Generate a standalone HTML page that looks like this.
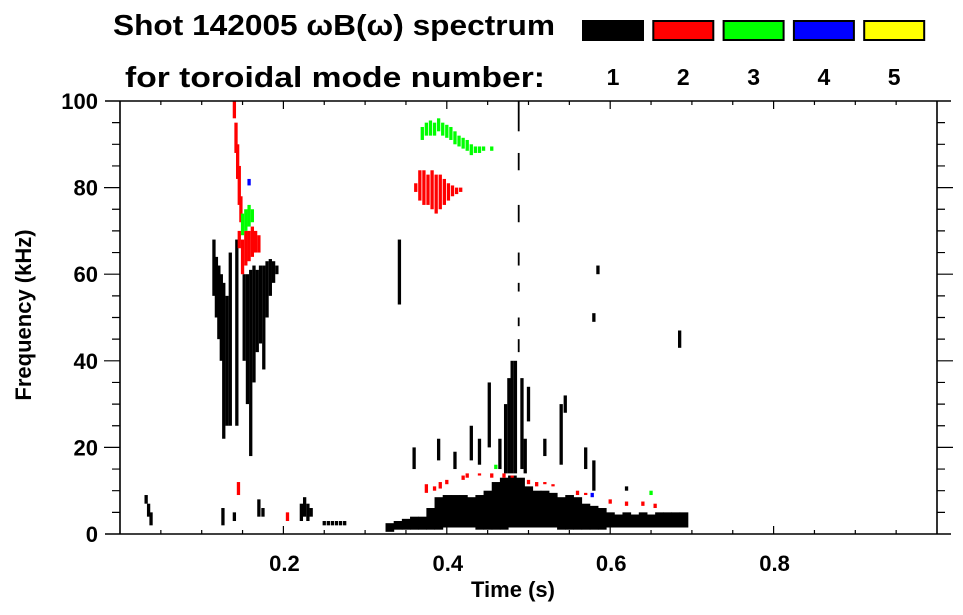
<!DOCTYPE html>
<html><head><meta charset="utf-8"><style>
body{margin:0;background:#fff}
svg{display:block;font-family:"Liberation Sans",sans-serif;font-weight:bold}
</style></head><body>
<svg id="c" width="963" height="615" viewBox="0 0 963 615">
<text x="113" y="35" font-size="29" textLength="442" lengthAdjust="spacingAndGlyphs">Shot 142005 ωB(ω) spectrum</text>
<text x="125" y="87" font-size="29" textLength="420" lengthAdjust="spacingAndGlyphs">for toroidal mode number:</text>
<g id="legend"></g>
<g id="marks"></g>
<g id="axes"></g>
<text x="513" y="597" font-size="22" text-anchor="middle">Time (s)</text>
<text transform="translate(31,315) rotate(-90)" font-size="22" text-anchor="middle">Frequency (kHz)</text>
</svg>
<script>
// ---- data ----
const modeLabels = ["1","2","3","4","5"];
const modeColors = ["#000000","#ff0000","#00ff00","#0000ff","#ffff00"];
const xTicks = [0.2,0.4,0.6,0.8];
const yTicks = [0,20,40,60,80,100];
// broad mode-1 band (0.01 s bins)
const bandT  = [.33,.34,.35,.36,.37,.38,.39,.40,.41,.42,.43,.44,.45,.46,.47,.48,.49,.50,.51,.52,.53,.54,.55,.56,.57,.58,.59,.60,.61,.62,.63,.64,.65,.66,.67,.68,.69];
const bandHi = [2.5,3,3.5,4,4,6,8.5,9,9,9,8.5,9,10,12,13,13.5,13,11,10,10,9.5,8.5,9,8.5,7,6.5,6,5,4.5,5,4.5,5,4.5,5,5,5,5];
const bandLo = [0.5,1,1,1,1,1,1,1.5,1.5,1.5,1.5,1,1,1,1,1.5,1.5,1.5,1.5,1.5,1.5,1,1,1,1,1,1,1.5,1.5,1.5,1.5,1.5,1.5,1.5,1.5,1.5,1.5];
// mode 1 narrow strips
const m1T  = [.032,.035,.038,.115,.118,.121,.124,.127,.131,.135,.143,.152,.156,.160,.164,.168,.172,.176,.180,.184,.188,.192,.126,.140,.170,.175,.222,.226,.230,.234,.25,.255,.26,.265,.27,.275,.342,.488,.488,.488,.488,.488,.488,.488,.472,.476,.480,.484,.492,.496,.43,.44,.452,.465,.50,.52,.54,.57,.58,.62,.585,.58,.685,.545,.36,.39,.41];
const m1Hi = [9,7,5,68,64,62,60,58,55,65,68,60,60,61,62,61,62,62,63,63.5,63,62,6,5,8,6,7,8.5,7,6,3,3,3,3,3,3,68,100,88,76,65,58,50,45,30,36,40,40,36,22,25,22,35,22,34,22,30,20,17,11,62,51,47,32,20,22,19];
const m1Lo = [7,4,2,55,50,45,40,22,25,25,25,40,30,18,35,42,44,38,50,55,58,60,2,3,4,4,3,4,3,4,2,2,2,2,2,2,53,93,84,72,62,56,48,42,14,14,14,14,15,14,17,16,20,15,26,18,16,15,10,10,60,49,43,28,15,17,15];
// mode 2 strips
const m2T  = [.140,.142,.144,.146,.148,.146,.150,.154,.158,.162,.166,.170,.362,.367,.372,.377,.382,.387,.392,.397,.402,.407,.412,.417,.145,.205,.375,.385,.392,.40,.42,.425,.44,.455,.47,.48,.50,.51,.52,.53,.56,.57,.60,.62,.64,.655];
const m2Hi = [100,95,90,85,78,70,68,70,70,71,70,69,81,84,84,83,84,83,83,82,81,80.5,80,80,12,5,11.5,11,12,12.5,13.5,14,14,14,14,13.5,12.5,12,12,11.5,10,9.5,8,7.5,7.5,7];
const m2Lo = [96,88,82,76,72,66,60,62,63,64,65,65,79,77,76,76,75,74,75,76,77,78,78.5,79,9,3,9.5,10,10.5,11.5,12.5,13,13.5,13,13,13,11.5,11,11.5,11,9,9,7,6.5,6.5,6];
// mode 3 strips
const m3T  = [.150,.154,.158,.162,.37,.375,.38,.385,.39,.395,.40,.405,.41,.415,.42,.425,.43,.435,.44,.445,.455,.46,.65];
const m3Hi = [74,75,76,75,94,95,95.5,95,96,95,94.5,94,93,92,91.5,91,90,89.5,89.5,89.5,89.5,16,10];
const m3Lo = [69,70,71,72,91,92,92,92,93,92,91.5,91,90,89.5,89,88.5,87.5,88,88,88.5,88.5,15,9];
// mode 4 strips
const m4T  = [.158,.578];
const m4Hi = [82,9.5];
const m4Lo = [80.5,8.5];

// ---- axes ----
const X0=120, XS=817, Y0=534, YS=4.33;
const xs=t=>X0+t*XS, ys=f=>Y0-f*YS;
const NS="http://www.w3.org/2000/svg";
function mk(tag,attrs,parent){const e=document.createElementNS(NS,tag);for(const k in attrs)e.setAttribute(k,attrs[k]);parent.appendChild(e);return e;}
const marks=document.getElementById('marks');
for(let i=0;i<bandT.length;i++){
  const r=mk('rect',{x:xs(bandT[i]-0.005),y:ys(bandHi[i]),width:0.01*XS+0.5,height:(bandHi[i]-bandLo[i])*YS,fill:'#000'},marks);
  
  
}
const series=[[m1T,m1Lo,m1Hi,0],[m2T,m2Lo,m2Hi,1],[m3T,m3Lo,m3Hi,2],[m4T,m4Lo,m4Hi,3]];
series.forEach(([T,Lo,Hi,m])=>{
  for(let i=0;i<T.length;i++){
    const w=(Math.abs(T[i]-0.488)<1e-6)?1.8:3.3;
    const r=mk('rect',{x:xs(T[i])-w/2,y:ys(Hi[i]),width:w,height:Math.max(1,(Hi[i]-Lo[i])*YS),fill:modeColors[m]},marks);
    
    
  }
});
const ax=document.getElementById('axes');
mk('path',{d:`M105 ${ys(100)}H951M${X0} ${ys(100)}V${Y0}M105 ${Y0}H951M${xs(1)} ${ys(100)}V${Y0}`,stroke:'#000','stroke-width':1.6,fill:'none'},ax);
for(let v=0.05;v<1;v+=0.05){
  const major=Math.abs(v*5-Math.round(v*5))<1e-6;
  const L=major?8:4;
  mk('path',{d:`M${xs(v)} ${Y0}v${-L}M${xs(v)} ${ys(100)}v${L}`,stroke:'#000','stroke-width':1.2},ax);
}
for(let f=5;f<100;f+=5){
  const major=f%20===0, L=major?16:8;
  mk('path',{d:`M${X0} ${ys(f)}h${-L}M${xs(1)} ${ys(f)}h${L}`,stroke:'#000','stroke-width':1.2},ax);
}
yTicks.forEach(v=>{
  const t=mk('text',{x:98,y:ys(v)+8,'font-size':22,'text-anchor':'end'},ax);
  t.textContent=v;
  
  
});
xTicks.forEach(v=>{
  const t=mk('text',{x:xs(v)+1,y:571,'font-size':22,'text-anchor':'middle'},ax);
  t.textContent=v.toFixed(1);
  
  
});
const lg=document.getElementById('legend');
modeLabels.forEach((lab,i)=>{
  const x=583+i*70.3;
  const r=mk('rect',{x:x,y:21,width:60,height:19,fill:modeColors[i],stroke:'#000','stroke-width':2},lg);
  
  
  const t=mk('text',{x:x+30,y:85,'font-size':23,'text-anchor':'middle'},lg);
  t.textContent=lab;
  
  
});
</script>
</body></html>
